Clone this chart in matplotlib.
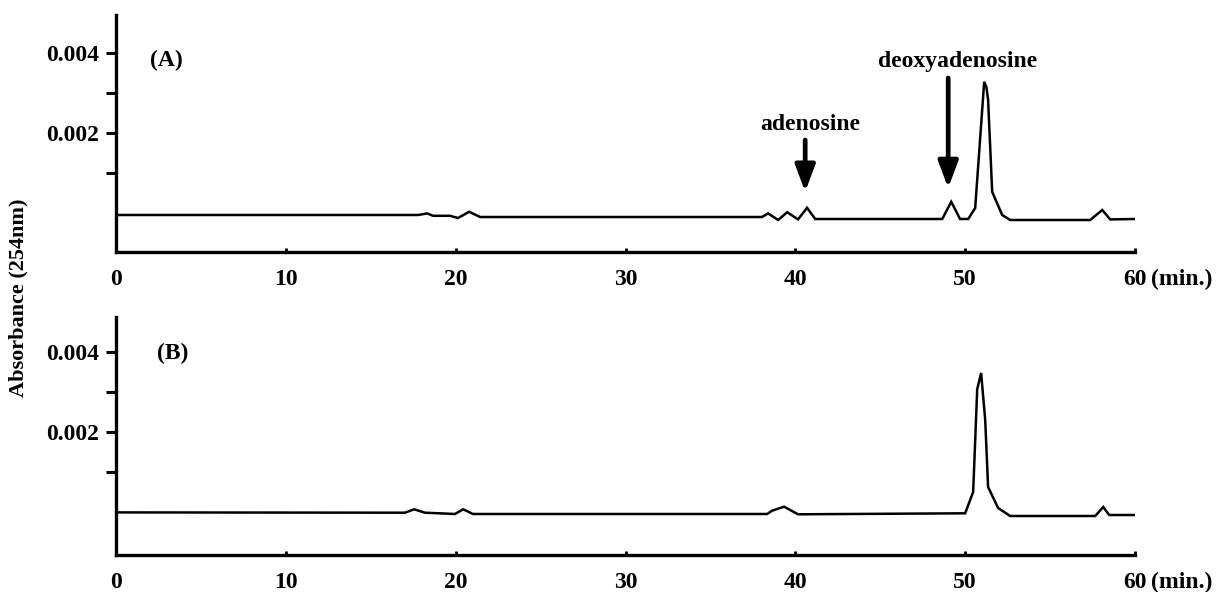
import matplotlib
matplotlib.use("Agg")
import matplotlib.pyplot as plt

# ---- data (time in min, absorbance at 254 nm) ----
time_a = [0, 17.79, 18.32, 18.67, 19.67, 20.14, 20.79, 21.44, 38.04, 38.4, 38.99,
          39.52, 40.16, 40.69, 41.17, 48.65, 49.18, 49.7, 50.18, 50.59, 51.12,
          51.25, 51.35, 51.59, 52.18, 52.65, 57.36, 58.07, 58.54, 60.0]
abs_a = [-0.00005, -0.00005, -0.00001, -0.00007, -0.00007, -0.000125, 0.00003,
         -0.0001, -0.0001, -0.00001, -0.000175, 0.00002, -0.00016, 0.00013,
         -0.00015, -0.00015, 0.00028, -0.00015, -0.00015, 0.000125, 0.00328,
         0.00315, 0.00283, 0.00053, -0.00005, -0.000175, -0.000175, 0.000075,
         -0.00016, -0.00015]

time_b = [0, 17.02, 17.55, 18.2, 19.96, 20.44, 21.02, 38.34, 38.63, 39.34, 40.16,
          50.0, 50.47, 50.71, 50.94, 51.18, 51.35, 51.94, 52.65, 57.66, 58.13,
          58.48, 60.0]
abs_b = [-0.00001, -0.0000175, 0.0000675, -0.0000175, -0.00005, 0.0000675,
         -0.00005, -0.00005, 0.0000325, 0.0001325, -0.0000575, -0.0000325,
         0.0005, 0.003075, 0.003475, 0.0023, 0.000625, 0.0001, -0.0001, -0.0001,
         0.000125, -0.000075, -0.000075]

x_ticks = [0, 10, 20, 30, 40, 50, 60]
x_ticklabels = ["0", "10", "20", "30", "40", "50", "60"]
y_ticks = [0.001, 0.002, 0.003, 0.004]
y_ticklabels = ["", "0.002", "", "0.004"]

panel_labels = ["(A)", "(B)"]
compound_labels = ["adenosine", "deoxyadenosine"]
compound_times = [40.58, 49.0]

plt.rcParams['font.family'] = ['Liberation Serif', 'DejaVu Serif']
plt.rcParams['font.weight'] = 'bold'

W, H = 1218, 592
fig = plt.figure(figsize=(W / 100, H / 100), dpi=100)

def px_axes(left, right, top, bottom):
    return fig.add_axes([left / W, 1 - bottom / H, (right - left) / W, (bottom - top) / H])

ax_a = px_axes(116, 1135, 15, 252)
ax_b = px_axes(116, 1135, 317, 555)

FS = 17
for ax, t, a, ylim in [(ax_a, time_a, abs_a, (-0.000975, 0.00495)),
                       (ax_b, time_b, abs_b, (-0.001075, 0.004875))]:
    ax.plot(t, a, color='black', lw=1.8, solid_joinstyle='miter')
    ax.set_xlim(0, 60)
    ax.set_ylim(*ylim)
    for s in ['top', 'right']:
        ax.spines[s].set_visible(False)
    for s in ['left', 'bottom']:
        ax.spines[s].set_linewidth(2.4)
    ax.set_xticks(x_ticks)
    ax.set_xticklabels(x_ticklabels, fontsize=FS, fontweight='bold')
    ax.set_yticks(y_ticks)
    ax.set_yticklabels(y_ticklabels, fontsize=FS, fontweight='bold')
    ax.tick_params(axis='x', direction='in', length=3, width=2, pad=12)
    ax.tick_params(axis='y', direction='out', length=7.5, width=2.2, pad=5)
    ax.annotate('(min.)', xy=(60, 0), xycoords=('data', 'axes fraction'),
                xytext=(11.5, -20), textcoords='offset points',
                ha='left', va='center', fontsize=FS, fontweight='bold',
                annotation_clip=False)

ax_a.text(2.0, 0.003825, panel_labels[0], ha='left', va='center', fontsize=FS, fontweight='bold')
ax_b.text(2.4, 0.003975, panel_labels[1], ha='left', va='center', fontsize=FS, fontweight='bold')

# annotations with arrows
arrow_spec = [(compound_times[0], 0.001825, 0.00053, 40.87, 0.0022),
              (compound_times[1], 0.003375, 0.000625, 49.53, 0.003775)]
for lab, (xt, ytail, ytip, xtxt, ytxt) in zip(compound_labels, arrow_spec):
    ax_a.annotate('', xy=(xt, ytip), xytext=(xt, ytail),
                  arrowprops=dict(arrowstyle='-|>,head_length=1.6,head_width=0.6',
                                  lw=3.4, color='black', shrinkA=0, shrinkB=0))
    ax_a.text(xtxt, ytxt, lab, ha='center', va='center', fontsize=FS, fontweight='bold')

fig.text(18 / W, 1 - 298 / H, 'Absorbance (254nm)', rotation=90, ha='center', va='center',
         fontsize=FS - 1, fontweight='bold')

fig.savefig('out.png', dpi=100)
